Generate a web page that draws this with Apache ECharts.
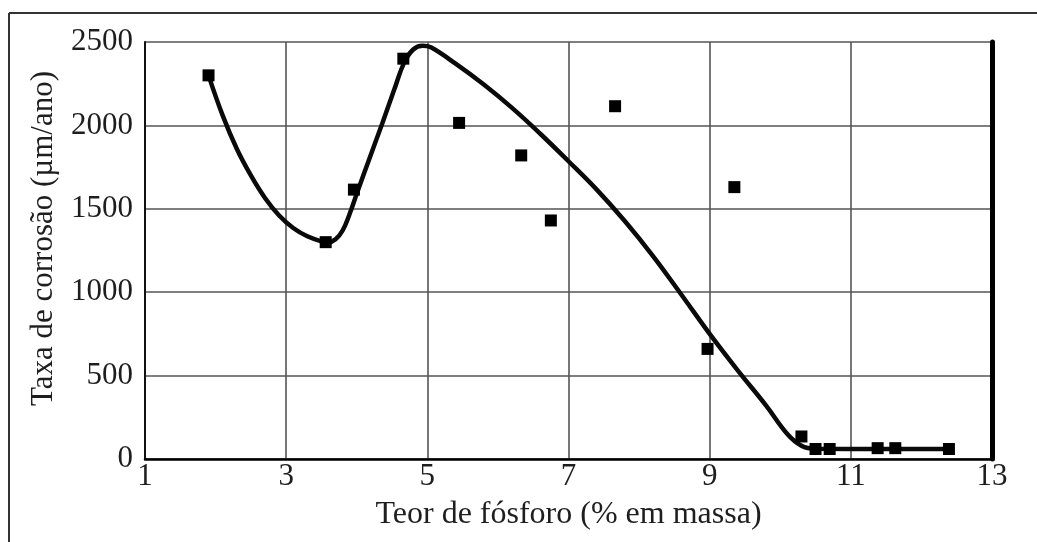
<!DOCTYPE html>
<html>
<head>
<meta charset="utf-8">
<script src="https://cdn.jsdelivr.net/npm/echarts@6/dist/echarts.min.js"></script>
<style>
  html, body { margin: 0; padding: 0; background: #fff; }
  #chart { width: 1037px; height: 542px; }
</style>
</head>
<body>
<div id="chart"></div>
<script>
// Measured samples (phosphorus content, corrosion rate)
const sampleP = [1.9, 3.56, 3.96, 4.66, 5.45, 6.33, 6.75, 7.66, 8.97, 9.35, 10.3, 10.5, 10.7, 11.38, 11.63, 12.39];
const sampleRate = [2300, 1300, 1615, 2400, 2015, 1820, 1430, 2115, 660, 1630, 135, 60, 60, 65, 65, 60];

// Trend curve drawn through the samples
const trendP = [1.9, 2.1, 2.3, 2.5, 2.7, 2.9, 3.1, 3.3, 3.5, 3.6, 3.7, 3.8, 3.9, 4.0, 4.17, 4.36, 4.54, 4.67, 4.8, 4.93, 5.05, 5.4, 5.8, 6.2, 6.6, 7.0, 7.4, 7.8, 8.2, 8.6, 9.0, 9.4, 9.8, 10.1, 10.3, 10.5, 11.5, 12.39];
const trendRate = [2300, 2060, 1860, 1700, 1565, 1460, 1385, 1335, 1305, 1300, 1318, 1370, 1470, 1590, 1790, 2010, 2225, 2375, 2455, 2478, 2468, 2370, 2245, 2105, 1950, 1785, 1615, 1425, 1215, 985, 750, 530, 320, 150, 80, 62, 60, 60];

const xTicks = { min: 1, max: 13, step: 2 };
const yTicks = { min: 0, max: 2500, step: 500 };

const xTitle = 'Teor de fósforo (% em massa)';
const yTitle = 'Taxa de corrosão (µm/ano)';

const FONT = '"Liberation Serif", "DejaVu Serif", serif';
const TEXT = '#1e1e1e';

const chart = echarts.init(document.getElementById('chart'), null, { renderer: 'canvas' });

chart.setOption({
  backgroundColor: '#ffffff',
  animation: false,
  grid: { left: 145, top: 42, right: 45, bottom: 83, containLabel: false },
  graphic: [
    // outer frame: left and top edges
    { type: 'line', shape: { x1: 9, y1: 13, x2: 1037, y2: 13 }, style: { stroke: '#333', lineWidth: 2 }, z: 1 },
    { type: 'line', shape: { x1: 9, y1: 13, x2: 9, y2: 542 }, style: { stroke: '#333', lineWidth: 2 }, z: 1 }
  ],
  xAxis: {
    type: 'value',
    min: xTicks.min,
    max: xTicks.max,
    interval: xTicks.step,
    name: xTitle,
    nameLocation: 'middle',
    nameGap: 40,
    nameTextStyle: { fontFamily: FONT, fontSize: 32, color: TEXT },
    axisLine: { show: true, onZero: false, lineStyle: { color: '#000', width: 2.5 } },
    axisTick: { show: false },
    axisLabel: { fontFamily: FONT, fontSize: 31, color: TEXT, margin: 2, lineHeight: 31 },
    splitLine: { show: true, lineStyle: { color: '#555', width: 1.6 } }
  },
  yAxis: [
    {
      type: 'value',
      min: yTicks.min,
      max: yTicks.max,
      interval: yTicks.step,
      name: yTitle,
      nameLocation: 'middle',
      nameGap: 86,
      nameRotate: 90,
      nameTextStyle: { fontFamily: FONT, fontSize: 31, color: TEXT, padding: [0, 0, 0, 24] },
      axisLine: { show: true, lineStyle: { color: '#111', width: 2 } },
      axisTick: { show: false },
      axisLabel: { fontFamily: FONT, fontSize: 31, color: TEXT, margin: 12, formatter: (v) => String(v) },
      splitLine: { show: true, lineStyle: { color: '#555', width: 1.6 } }
    },
    {
      type: 'value',
      position: 'right',
      min: yTicks.min,
      max: yTicks.max,
      interval: yTicks.step,
      axisLine: { show: true, lineStyle: { color: '#000', width: 5 } },
      axisTick: { show: false },
      axisLabel: { show: false },
      splitLine: { show: false }
    }
  ],
  series: [
    {
      type: 'line',
      name: 'tendência',
      data: trendP.map((p, i) => [p, trendRate[i]]),
      smooth: 0.4,
      symbol: 'none',
      lineStyle: { color: '#0a0a0a', width: 4.5 },
      z: 3
    },
    {
      type: 'scatter',
      name: 'amostras',
      data: sampleP.map((p, i) => [p, sampleRate[i]]),
      symbol: 'rect',
      symbolSize: 12,
      itemStyle: { color: '#000', opacity: 1 },
      z: 4
    }
  ]
});
</script>
</body>
</html>
